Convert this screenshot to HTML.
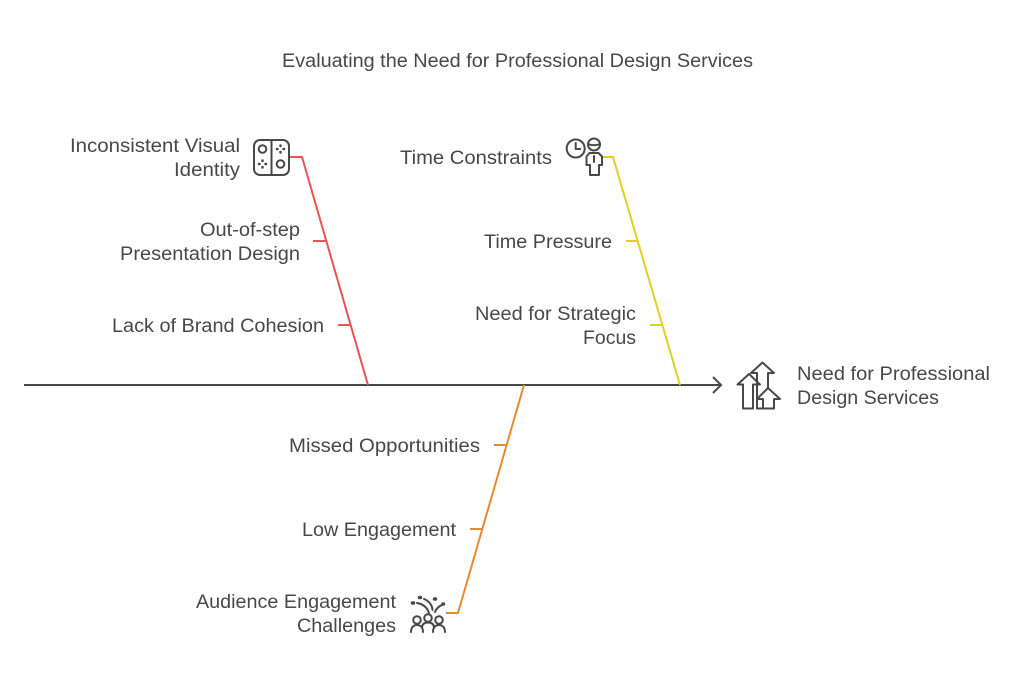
<!DOCTYPE html>
<html lang="en">
<head>
<meta charset="utf-8">
<title>Evaluating the Need for Professional Design Services</title>
<style>
html,body{margin:0;padding:0;background:#fff;width:1024px;height:687px;overflow:hidden}
svg{display:block}
text{font-family:"Liberation Sans",sans-serif;font-size:19px;fill:#484848}
.ic{fill:none;stroke:#484848;stroke-width:2;stroke-linejoin:round;stroke-linecap:round}
.br{fill:none;stroke-width:2}
</style>
</head>
<body>
<svg width="1024" height="687" viewBox="0 0 1024 687">
<text x="282" y="67" textLength="471" lengthAdjust="spacingAndGlyphs">Evaluating the Need for Professional Design Services</text>

<path d="M24 385H721M713 377l8 8-8 8" fill="none" stroke="#484848" stroke-width="2"/>

<g class="br" stroke="#e85353">
<path class="br" d="M290 157H302L368 385M313 241H327M338 325H351"/>
</g>
<g class="br" stroke="#e2cf1f">
<path class="br" d="M601 157H613L680 385M626 241H638M650 325H662"/>
</g>
<g class="br" stroke="#e58a2e">
<path class="br" d="M524 385L458 613H446M494 445H506M470 529H482"/>
</g>

<g>
<text x="70" y="152" textLength="170" lengthAdjust="spacingAndGlyphs">Inconsistent Visual</text>
<text x="174" y="176" textLength="66" lengthAdjust="spacingAndGlyphs">Identity</text>
<text x="200" y="236" textLength="100" lengthAdjust="spacingAndGlyphs">Out-of-step</text>
<text x="120" y="260" textLength="180" lengthAdjust="spacingAndGlyphs">Presentation Design</text>
<text x="112" y="332" textLength="212" lengthAdjust="spacingAndGlyphs">Lack of Brand Cohesion</text>
</g>
<g>
<text x="400" y="164" textLength="152" lengthAdjust="spacingAndGlyphs">Time Constraints</text>
<text x="484" y="248" textLength="128" lengthAdjust="spacingAndGlyphs">Time Pressure</text>
<text x="475" y="320" textLength="161" lengthAdjust="spacingAndGlyphs">Need for Strategic</text>
<text x="583" y="344" textLength="53" lengthAdjust="spacingAndGlyphs">Focus</text>
</g>
<g>
<text x="289" y="452" textLength="191" lengthAdjust="spacingAndGlyphs">Missed Opportunities</text>
<text x="302" y="536" textLength="154" lengthAdjust="spacingAndGlyphs">Low Engagement</text>
<text x="196" y="608" textLength="200" lengthAdjust="spacingAndGlyphs">Audience Engagement</text>
<text x="297" y="632" textLength="99" lengthAdjust="spacingAndGlyphs">Challenges</text>
</g>
<g>
<text x="797" y="380" textLength="193" lengthAdjust="spacingAndGlyphs">Need for Professional</text>
<text x="797" y="404" textLength="142" lengthAdjust="spacingAndGlyphs">Design Services</text>
</g>

<g class="ic">
<rect x="254" y="140" width="35" height="35" rx="6"/>
<path d="M271.500 140V175"/>
<circle cx="262.500" cy="149" r="3.800"/>
<circle cx="280.500" cy="164" r="3.800"/>
<path stroke-width="2.500" d="M280.500 145.500v.5M280.500 152v.5M277 149h.5M283.500 149h.5M262.500 160.500v.5M262.500 167v.5M259 164h.5M265.500 164h.5"/>
</g>

<g class="ic">
<circle cx="575.700" cy="148.500" r="9"/>
<path d="M575.700 143v6h4.500"/>
<circle cx="594" cy="144.500" r="6"/>
<path d="M588 144c3 1.500 9 1.500 12 0"/>
<path d="M589.500 153h9l3.500 3.500v8.500h-3v10h-9v-10h-3.500v-8.500zM594 156v6"/>
</g>

<g class="ic">
<path d="M749 374L737.500 384.500H743V408.500H753V384.500H760Z"/>
<path d="M757 408.500V373H751L762.500 362.500L774 373H768V388"/>
<path d="M768 388L757 399H763V408.500H774V399H780Z"/>
<path d="M757 408.500H763"/>
</g>

<g class="ic">
<circle cx="417" cy="620" r="3.800"/>
<circle cx="428" cy="618" r="3.800"/>
<circle cx="439" cy="620" r="3.800"/>
<path d="M411 632c0-4.500 2.500-7 6-7s6 2.500 6 7M422 628c0-4 2.500-5.500 6-5.500s6 1.500 6 5.500M433 632c0-4.500 2.500-7 6-7s6 2.500 6 7"/>
<path d="M417 603c6 1 10 4 12 10M424 599c5 2 8 6 8.500 11M435 612c1-3 4-6 7-7"/>
<path d="M412.500 603h1M419.500 597.500h1M434.500 599h1M443 604h.5" stroke-width="3.500"/>
</g>
</svg>
</body>
</html>
